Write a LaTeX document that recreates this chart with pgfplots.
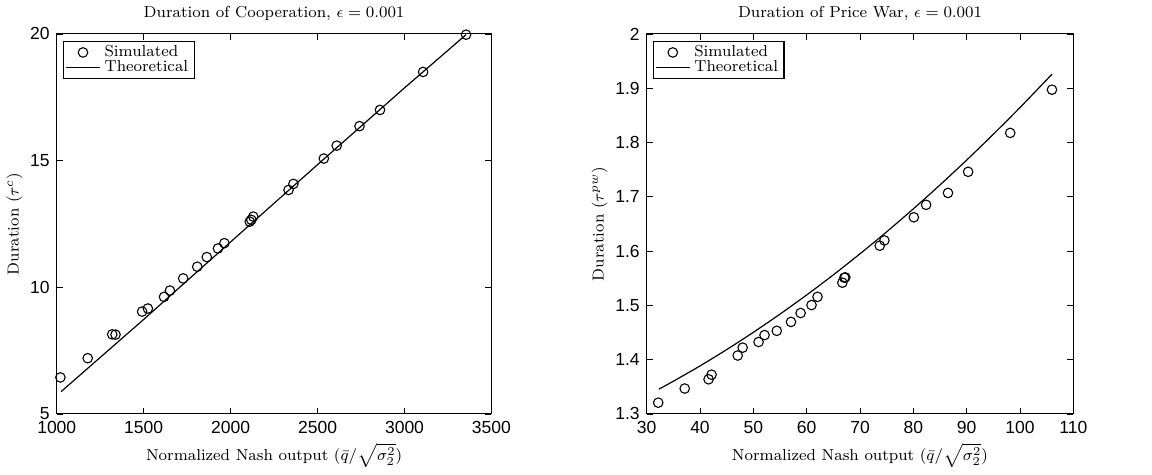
\documentclass[border=0pt]{standalone}
\usepackage{fontspec}
\usepackage{pgfplots}
\pgfplotsset{compat=1.18}
\newfontfamily\ticksf{Liberation Sans}
\begin{document}
\begin{tikzpicture}
\pgfplotsset{
  every axis/.append style={
    scale only axis,
    height=191pt,
    font=\fontsize{8}{9.6}\selectfont,
    tick label style={font=\ticksf\fontsize{8.8}{10}\selectfont},
    /pgf/number format/assume math mode=true,
    /pgf/number format/1000 sep={},
    scaled ticks=false,
    tick align=inside,
    major tick length=3pt,
    axis line style={line width=0.5pt},
    every tick/.style={line width=0.4pt, black},
    title style={yshift=-3pt},
    xlabel style={yshift=2pt},
    legend cell align=left,
    legend style={at={(0.014,0.982)}, anchor=north west, font=\fontsize{8}{8}\selectfont,
      inner xsep=1pt, inner ysep=0pt, line width=0.6pt, row sep=-3.5pt},
  }
}
\begin{axis}[
  name=left,
  width=218.5pt,
  at={(0pt,0pt)}, anchor=south west,
  xmin=1000, xmax=3500, ymin=5, ymax=20,
  xtick={1000,1500,...,3500}, ytick={5,10,15,20},
  title={Duration of Cooperation, $\epsilon = 0.001$},
  xlabel={Normalized Nash output ($\bar{q}/\sqrt{\sigma_2^2}$)},
  ylabel={Duration ($\tau^c$)},
  ylabel style={yshift=-3pt},
]
\addplot[only marks, mark=o, mark size=2.4pt, black, line width=0.55pt] coordinates {
(1021,6.44) (1178,7.20) (1319,8.14) (1338,8.13) (1491,9.04) (1524,9.16)
(1617,9.62) (1651,9.87) (1727,10.35) (1808,10.81) (1863,11.19) (1927,11.53)
(1964,11.74) (2110,12.59) (2119,12.66) (2130,12.79) (2333,13.84) (2361,14.08)
(2536,15.08) (2610,15.59) (2741,16.36) (2859,17.00) (3107,18.50) (3354,19.97)
};
\addlegendentry{Simulated}
\addplot[black, line width=0.6pt, mark=none] coordinates {
(1025,5.88) (1500,8.73) (2000,11.79) (2500,14.84) (3000,17.87) (3354,19.97)
};
\addlegendentry{Theoretical}
\end{axis}
\begin{axis}[
  name=right,
  width=214.5pt,
  at={(296.5pt,0pt)}, anchor=south west,
  xmin=30, xmax=110, ymin=1.3, ymax=2,
  xtick={30,40,...,110}, ytick={1.3,1.4,...,2.0},
  yticklabel style={/pgf/number format/fixed, /pgf/number format/precision=1},
  title={Duration of Price War, $\epsilon = 0.001$},
  xlabel={Normalized Nash output ($\bar{q}/\sqrt{\sigma_2^2}$)},
  ylabel={Duration ($\tau^{pw}$)},
  ylabel style={yshift=-3pt},
]
\addplot[only marks, mark=o, mark size=2.4pt, black, line width=0.55pt] coordinates {
(32.17,1.3207) (37.14,1.3468) (41.61,1.3638) (42.17,1.3723) (47.07,1.4076)
(48.00,1.4221) (50.98,1.4325) (52.10,1.4452) (54.39,1.4531) (57.06,1.4695)
(58.86,1.4859) (60.91,1.5005) (62.03,1.5157) (66.69,1.5418) (67.06,1.5509)
(67.24,1.5515) (73.70,1.6099) (74.57,1.6196) (80.09,1.6622) (82.39,1.6852)
(86.49,1.7071) (90.27,1.7460) (98.16,1.8177) (105.98,1.8973)
};
\addlegendentry{Simulated}
\addplot[black, line width=0.6pt, mark=none, smooth] coordinates {
(32.3,1.3456) (35,1.3602) (40,1.3884) (45,1.4185) (50,1.4503) (55,1.4839)
(60,1.5192) (65,1.5562) (70,1.5950) (75,1.6355) (80,1.6778) (85,1.7219)
(90,1.7677) (95,1.8153) (100,1.8645) (106,1.9260)
};
\addlegendentry{Theoretical}
\end{axis}
\path[use as bounding box] (-25.5pt,-27pt) rectangle (550.5pt,206pt);
\end{tikzpicture}
\end{document}
